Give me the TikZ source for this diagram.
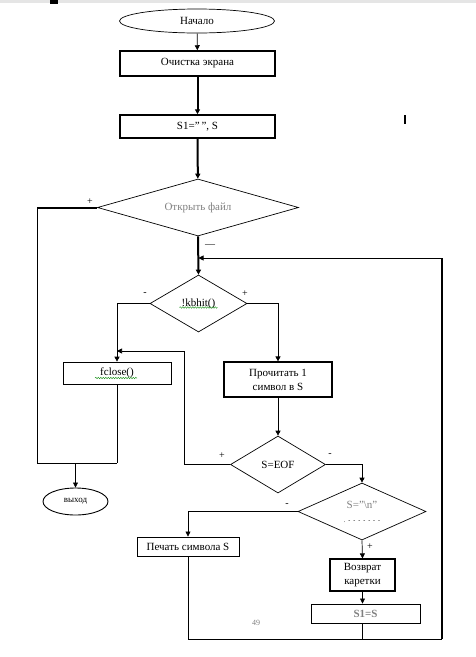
\documentclass[tikz,border=0pt]{standalone}
\usepackage{fontspec}
\setmainfont{Liberation Serif}
\usetikzlibrary{shapes.geometric,arrows.meta,decorations.pathmorphing,calc}
\definecolor{txtgray}{HTML}{808080}
\definecolor{spell}{HTML}{2E9A2E}
\begin{document}
\begin{tikzpicture}[x=1pt,y=-1pt,
  every node/.style={font=\fontsize{11}{14}\selectfont},
  box/.style={draw, rectangle, inner sep=0pt, align=center, line width=0.7pt},
  thickbox/.style={box, line width=1.5pt},
  dia/.style={draw, diamond, inner sep=0pt, line width=0.7pt},
  oval/.style={draw, ellipse, inner sep=0pt, line width=0.7pt},
  arr/.style={-{Triangle[width=5pt,length=5pt]}},
  ln/.style={line width=0.7pt},
  thk/.style={line width=2pt},
  sign/.style={font=\fontsize{10}{10}\selectfont, inner sep=0pt},
  wavy/.style={spell, line width=0.5pt, decorate, decoration={snake,amplitude=0.7pt,segment length=2.5pt}}
]
\useasboundingbox (0,0) rectangle (476,657);
\fill[gray!20] (0,0) rectangle (476,3);
\fill[black] (50,0) rectangle (58,4);

% nodes
\node[oval, minimum width=155pt, minimum height=24pt] (start) at (197,21) {Начало};
\node[thickbox, minimum width=155pt, minimum height=25pt] (clr) at (197.5,63.5) {Очистка экрана};
\node[thickbox, minimum width=155pt, minimum height=23pt] (init) at (197.5,126.5) {S1=”\,”, S};
\node[dia, aspect=3.5, minimum width=201pt, minimum height=57pt, text=txtgray] (open) at (198,207.5) {Открыть файл};
\node[dia, aspect=1.7, minimum width=97pt, minimum height=57pt] (kb) at (198.5,303.5) {!kbhit()};
\node[box, minimum width=108pt, minimum height=22pt] (fclose) at (117,373) {fclose()};
\node[box, line width=1.2pt, minimum width=108pt, minimum height=35pt] (read) at (278,379.5) {Прочитать 1\\символ в S};
\node[dia, aspect=1.67, minimum width=95pt, minimum height=57pt] (eof) at (278,464.5) {S=EOF};
\node[oval, line width=0.9pt, minimum width=65pt, minimum height=27pt] (exit) at (75.5,501.5) {\fontsize{9}{9}\selectfont выход};
\node[dia, aspect=2.25, minimum width=128pt, minimum height=57pt] (nl) at (362,511.5) {};
\node[text=txtgray] (nltext) at (362,505) {S=”\textbackslash n”};
\node[font=\fontsize{6}{6}\selectfont, inner sep=0pt] (nldots) at (362,522) {.\ \ -\ \ -\ \ -\ \ -\ \ -\ \ -\ \ -};
\node[box, line width=0.9pt, minimum width=102pt, minimum height=19pt] (print) at (188,546.5) {Печать символа S};
\node[box, line width=1.2pt, minimum width=65pt, minimum height=32pt] (ret) at (362.5,575) {Возврат\\каретки};
\node[box, line width=0.9pt, minimum width=109pt, minimum height=19pt, text=txtgray, font=\fontsize{11}{14}\selectfont\bfseries] (s1s) at (365.5,613.5) {S1=S};
\node[text=txtgray, font=\fontsize{8}{8}\selectfont] (page) at (256,623) {49};

% coordinates
\coordinate (jl) at (37,463);
\coordinate (back) at (184,351);
\coordinate (loopR) at (442,639);
\coordinate (loopT) at (442,258);
\coordinate (mark) at (405,115);

% spell-check wavy underlines
\draw[wavy] ($(kb.center)+(-19,4)$) -- ++(38,0);
\draw[wavy] ($(fclose.center)+(-22,5)$) -- ++(42,0);

% connectors
\draw[ln, arr] (start) -- (clr);
\draw[thk, arr] (clr) -- (init);
\draw[thk, arr] (init) -- (open);
\draw[thk] (open.west) -- (open.west -| jl);
\draw[ln] (open.west -| jl) -- (jl) -- (fclose.south |- jl);
\draw[ln] (fclose.south) -- (fclose.south |- jl);
\draw[ln, arr] (exit.north |- jl) -- (exit);
\draw[thk, arr] (open.south) -- (kb.north);
\draw[ln, arr] (kb.west) -| (fclose.north);
\draw[ln, arr] (kb.east) -| (read.north);
\draw[ln, arr] (read.south) -- (eof.north);
\draw[ln, arr] (eof.west) -| (back) -- (fclose.north |- back);
\draw[ln, arr] (eof.east) -| (nl.north);
\draw[ln, arr] (nl.west) -| (print.north);
\draw[ln, arr] (nl.south) -- (ret.north);
\draw[ln, arr] (ret.south) -- (ret.south |- s1s.north);
\draw[ln] (print.south) |- (loopR);
\draw[ln] (ret.south |- s1s.south) -- (ret.south |- loopR);
\draw[thk] (loopR) -- (loopT);
\draw[ln, arr] (loopT) -- (kb.north |- loopT);
\draw[line width=2pt] (mark) -- ++(0,9);

% branch labels
\node[sign] (l1) at (90,202) {+};
\node[sign] (l2) at (210,246) {—};
\node[sign] (l3) at (145,294) {-};
\node[sign] (l4) at (245,294) {+};
\node[sign] (l5) at (222,456) {+};
\node[sign] (l6) at (330,455) {-};
\node[sign] (l7) at (287,505) {-};
\node[sign] (l8) at (370,547) {+};
\end{tikzpicture}
\end{document}
